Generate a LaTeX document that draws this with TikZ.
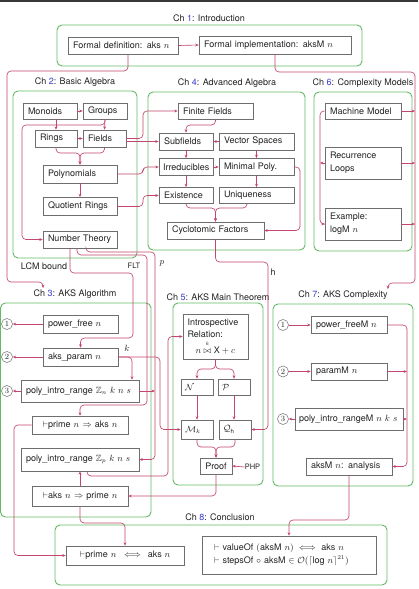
\documentclass[tikz,border=0pt]{standalone}
\usepackage{amsmath,amssymb}
\usepackage{fontspec}
\setsansfont{TeX Gyre Heros}
\renewcommand{\familydefault}{\sfdefault}
\usetikzlibrary{arrows.meta}
\definecolor{conncol}{RGB}{196,70,110}
\definecolor{frgreen}{RGB}{100,185,100}
\definecolor{boxgray}{RGB}{110,110,110}
\definecolor{chblue}{RGB}{60,60,210}
\definecolor{txt}{RGB}{35,35,35}
\newcommand{\fsz}{\fontsize{9}{13}\selectfont}
\newcommand{\chn}[1]{\textcolor{chblue}{#1}}
\begin{document}
\begin{tikzpicture}[x=1pt,y=-1pt,
  box/.style={draw=boxgray, line width=0.6pt, inner xsep=5pt, inner ysep=1pt, font=\fsz, text=txt, align=left},
  cbox/.style={box, align=center},
  frame/.style={draw=frgreen, line width=0.9pt, rounded corners=5pt},
  conn/.style={draw=conncol, line width=0.65pt, rounded corners=4pt, -{Stealth[length=3.4pt,width=2.8pt]}},
  chlab/.style={font=\fsz, text=txt, inner sep=0pt},
  elab/.style={font=\fsz, text=txt, inner sep=0pt},
  slab/.style={font=\fontsize{7.5}{9}\selectfont, text=txt, inner sep=0pt},
  circ/.style={circle, draw=boxgray, line width=0.5pt, inner sep=0pt, minimum size=11pt, font=\fontsize{8}{8}\rmfamily, text=txt}
]
\useasboundingbox (0,0) rectangle (418,589);
\fill[white] (0,0) rectangle (418,589);
\fill[gray!45!black] (0,0) rectangle (418,1.5);

% ---------- frames ----------
\draw[frame] (57,25) rectangle (362,66);
\draw[frame] (13,91) rectangle (137,258);
\draw[frame] (148,92) rectangle (305,250);
\draw[frame] (314,92) rectangle (412,251);
\draw[frame] (0.5,303) rectangle (151,517);
\draw[frame] (173,303) rectangle (263,485);
\draw[frame] (273,304) rectangle (413,486);
\draw[frame] (55,525) rectangle (387,585);

% ---------- chapter labels ----------
\node[chlab] (lab1) at (209,18) {Ch \chn{1}: Introduction};
\node[chlab] (lab2) at (75,82) {Ch \chn{2}: Basic Algebra};
\node[chlab] (lab4) at (227,83) {Ch \chn{4}: Advanced Algebra};
\node[chlab] (lab6) at (363,83) {Ch \chn{6}: Complexity Models};
\node[chlab] (lab3) at (75,294) {Ch \chn{3}: AKS Algorithm};
\node[chlab] (lab5) at (218,297) {Ch \chn{5}: AKS Main Theorem};
\node[chlab] (lab7) at (343,295) {Ch \chn{7}: AKS Complexity};
\node[chlab] (lab8) at (220,517) {Ch \chn{8}: Conclusion};

% ---------- Ch 1 ----------
\node[box, minimum width=110pt, text width=100pt, minimum height=17pt] (def) at (123,45.5) {Formal definition:\ \,aks $n$};
\node[box, minimum width=152pt, text width=142pt, minimum height=18pt] (impl) at (275,45) {Formal implementation:\ \,aksM $n$};

% ---------- Ch 2 ----------
\node[box, minimum width=54pt, text width=44pt, minimum height=16pt] (monoids) at (50,111) {Monoids};
\node[box, minimum width=44pt, text width=34pt, minimum height=16pt] (groups) at (105,111) {Groups};
\node[box, minimum width=42pt, text width=32pt, minimum height=17pt] (rings) at (56,138.5) {Rings};
\node[box, minimum width=43pt, text width=33pt, minimum height=17pt] (fields) at (104.5,138.5) {Fields};
\node[box, minimum width=74pt, text width=64pt, minimum height=18pt] (poly) at (80,174) {Polynomials};
\node[box, minimum width=74pt, text width=64pt, minimum height=18pt] (quot) at (80,206.5) {Quotient Rings};
\node[box, minimum width=74pt, text width=64pt, minimum height=17pt] (numth) at (80,239.5) {Number Theory};

% ---------- Ch 4 ----------
\node[box, minimum width=75pt, text width=65pt, minimum height=16pt] (ffields) at (215.5,111) {Finite Fields};
\node[box, minimum width=54pt, text width=44pt, minimum height=17pt] (subf) at (186,141.5) {Subfields};
\node[box, minimum width=75pt, text width=65pt, minimum height=17pt] (vsp) at (256.5,141.5) {Vector Spaces};
\node[box, minimum width=54pt, text width=46pt, inner xsep=4pt, minimum height=17pt] (irred) at (186,167) {Irreducibles};
\node[box, minimum width=75pt, text width=65pt, minimum height=17pt] (minp) at (256.5,167) {Minimal Poly.};
\node[box, minimum width=54pt, text width=44pt, minimum height=16pt] (exist) at (186,195.5) {Existence};
\node[box, minimum width=75pt, text width=65pt, minimum height=16pt] (uniq) at (256.5,195.5) {Uniqueness};
\node[box, minimum width=97pt, text width=87pt, minimum height=17pt] (cyclo) at (215.5,230.5) {Cyclotomic Factors};

% ---------- Ch 6 ----------
\node[box, minimum width=76pt, text width=66pt, minimum height=16pt] (mach) at (363,111) {Machine Model};
\node[box, minimum width=76pt, text width=66pt, minimum height=32pt] (recur) at (363,163) {Recurrence\\Loops};
\node[box, minimum width=76pt, text width=66pt, minimum height=32pt] (examp) at (363,224) {Example:\\logM $n$};

% ---------- Ch 3 ----------
\node[box, minimum width=75pt, text width=65pt, minimum height=18pt] (pfree) at (80.5,324) {power\_free $n$};
\node[box, minimum width=75pt, text width=65pt, minimum height=18pt] (aparam) at (80.5,357) {aks\_param $n$};
\node[box, minimum width=118pt, text width=108pt, minimum height=22pt] (pzn) at (80,391) {poly\_intro\_range $\mathbb{Z}_n\ k\ n\ s$};
\node[cbox, minimum width=96pt, text width=86pt, minimum height=18pt] (primeaks) at (80,425) {$\vdash$prime $n\Rightarrow$ aks $n$};
\node[box, minimum width=118pt, text width=108pt, minimum height=23pt] (pzp) at (80,459.5) {poly\_intro\_range $\mathbb{Z}_p\ k\ n\ s$};
\node[cbox, minimum width=96pt, text width=86pt, minimum height=20pt] (aksprime) at (80,496) {$\vdash$aks $n\Rightarrow$ prime $n$};
\node[circ] (a1) at (7,324) {1};
\node[circ] (a2) at (7,357) {2};
\node[circ] (a3) at (7,391) {3};

% ---------- Ch 5 ----------
\node[box, minimum width=65pt, text width=56pt, inner xsep=4.5pt, minimum height=45pt, font=\fontsize{9}{12.5}\selectfont] (intro) at (215.5,336.5) {Introspective\\Relation:\\[3pt]\hspace*{8pt}$n \mathrel{\overset{\raisebox{1.5pt}{$\scriptscriptstyle k$}}{\bowtie}} \mathsf{X} + c$};
\node[box, minimum width=32pt, text width=24pt, inner xsep=4pt, minimum height=16pt] (nN) at (197,387) {$\mathcal{N}$};
\node[box, minimum width=32pt, text width=24pt, inner xsep=4pt, minimum height=16pt] (nP) at (234,387) {$\mathcal{P}$};
\node[box, minimum width=32pt, text width=24pt, inner xsep=4pt, minimum height=19pt] (nM) at (197,429.5) {$\mathcal{M}_k$};
\node[box, minimum width=32pt, text width=24pt, inner xsep=4pt, minimum height=19pt] (nQ) at (235,429.5) {$\mathcal{Q}_{\mathsf{h}}$};
\node[cbox, minimum width=32pt, text width=26pt, inner xsep=3pt, minimum height=16pt] (proof) at (216,466) {Proof};
\node[slab] (php) at (252.5,467) {PHP};

% ---------- Ch 7 ----------
\node[box, minimum width=76pt, text width=66pt, minimum height=17pt] (pfreeM) at (349,325) {power\_freeM $n$};
\node[box, minimum width=76pt, text width=66pt, minimum height=17pt] (paramM) at (349,371.5) {paramM $n$};
\node[box, minimum width=108pt, text width=100pt, inner xsep=4pt, minimum height=22pt] (polyM) at (349,419) {poly\_intro\_rangeM $n\ k\ s$};
\node[box, minimum width=86pt, text width=76pt, minimum height=17pt] (aksMan) at (349,466.5) {aksM $n$:\ \,analysis};
\node[circ] (b1) at (283,325) {1};
\node[circ] (b2) at (283,371.5) {2};
\node[circ] (b3) at (283,419) {3};

% ---------- Ch 8 ----------
\node[cbox, minimum width=118pt, text width=108pt, minimum height=19pt] (iff) at (125,555.5) {$\vdash$prime $n\iff$ aks $n$};
\node[box, minimum width=174pt, text width=150pt, inner xsep=12pt, minimum height=38pt] (concl) at (289,555) {$\vdash$ valueOf $(\text{aksM } n)\iff$ aks $n$\\$\vdash$ stepsOf $\circ$ aksM $\in \mathcal{O}(\lceil\text{log } n\rceil^{21})$};

% ---------- edge labels ----------
\node[elab] (lcm) at (44,266) {LCM bound};
\node[slab] (flt) at (134,265.5) {FLT};
\node[elab] (plab) at (162,263) {$p$};
\node[elab] (klab) at (127,348) {$k$};
\node[elab] (hlab) at (273,272) {h};

% ---------- free ends ----------
\coordinate (ch3in) at (43,288);
\coordinate (ch7in) at (388,289);
\coordinate (pjoin) at (155,391);
\coordinate (r6a) at (415,111);
\coordinate (r6b) at (415,163);
\coordinate (r6c) at (415,224);
\coordinate (l6) at (320,163);
\coordinate (r7b) at (407,371.5);
\coordinate (r7c) at (407,419);

% ---------- Ch 1 connectors ----------
\draw[conn] (def.east) -- (impl.west);
\draw[conn] ([xshift=5pt]def.south) -- (128,71) -- (7,71) -- (7,282) -- (43,282) -- (ch3in);
\draw[conn] (impl.south) -- (275,72) -- (415,72) -- (415,283) -- (388,283) -- (ch7in);

% ---------- Ch 2 connectors ----------
\draw[conn] (monoids.east) -- (groups.west);
\draw[conn] (rings.north |- monoids.south) -- (rings.north);
\draw[conn] (groups.south) -- (fields.north);
\draw[conn] (rings.east) -- (fields.west);
\draw[conn] (rings.south) -- (56,153) -- (80,153) -- (poly.north);
\draw[conn] (fields.south) -- (104.5,153) -- (80,153) -- (poly.north);
\draw[conn] (poly.south) -- (quot.north);
\draw[conn] (groups.south) -- (105,125) -- (22,125) -- (22,239.5) -- (numth.west);

% ---------- Ch 2 -> Ch 4 ----------
\draw[conn] (fields.east) -- (143,138.5) -- (143,111) -- (ffields.west);
\draw[conn] ([yshift=-3pt]fields.east) -- (subf.west);
\draw[conn] (poly.east) -- (143,174) -- (143,167) -- (irred.west);
\draw[conn] (quot.east) -- (143,206.5) -- (143,195.5) -- (exist.west);

% ---------- Ch 4 connectors ----------
\draw[conn] (ffields.south) -- (215.5,125) -- (186,125) -- (subf.north);
\draw[conn] (vsp.west) -- (subf.east);
\draw[conn] (subf.south) -- (irred.north);
\draw[conn] (irred.east) -- (minp.west);
\draw[conn] (vsp.south) -- (minp.north);
\draw[conn] (irred.south) -- (exist.north);
\draw[conn] (minp.south) -- (uniq.north);
\draw[conn] (exist.south) -- (186,208) -- (215.5,208) -- (cyclo.north);
\draw[conn] ([xshift=-9.5pt]uniq.south) -- (247,208) -- (215.5,208) -- (cyclo.north);
\draw[conn] (minp.east) -- (300,167) -- (300,230.5) -- (cyclo.east);

% ---------- Ch 6 connectors ----------
\draw[conn] (mach.west) -- (320,111) -- (320,224) -- (examp.west);
\draw[conn] (recur.west) -- (l6);
\draw[conn] (mach.east) -- (r6a);
\draw[conn] (recur.east) -- (r6b);
\draw[conn] (examp.east) -- (r6c);

% ---------- Ch 3 connectors ----------
\draw[conn] (pfree.west) -- (a1.east);
\draw[conn] (aparam.west) -- (a2.east);
\draw[conn] (pzn.west) -- (a3.east);
\draw[conn] ([xshift=-10pt]numth.south) -- (70,273) -- (133,273) -- (133,338) -- (80.5,338) -- (aparam.north);
\draw[conn] ([xshift=-3pt]numth.south) -- (77,255) -- (147,255) -- (147,405) -- (80,405) -- (primeaks.north);
\draw[conn] ([xshift=6pt]numth.south) -- (86,252) -- (155,252) -- (155,459.5) -- (pzp.east);
\draw[conn] (aparam.east) -- (132,357) -- ([xshift=52pt]pzn.north);
\draw[conn] (aparam.east) -- (160,357) -- (160,429.5) -- (nM.west);
\draw[conn] (pzn.east) -- (pjoin);
\draw[conn] (aksprime.north) -- (pzp.south);
\draw[conn] ([xshift=7pt]pzp.south) -- (87,476) -- (168,476) -- (168,336.5) -- (intro.west);
\draw[conn] (primeaks.west) -- (14,425) -- (14,555.5) -- (iff.west);
\draw[conn] (aksprime.south) -- (80,523) -- (125,523) -- (iff.north);

% ---------- Ch 5 connectors ----------
\draw[conn] (intro.south) -- (215.5,369) -- (197,369) -- (nN.north);
\draw[conn] (intro.south) -- (215.5,369) -- (234,369) -- (nP.north);
\draw[conn] (nN.south) -- (nM.north);
\draw[conn] (nP.south) -- (nP.south |- nQ.north);
\draw[conn] (nM.south) -- (197,447) -- (216,447) -- (proof.north);
\draw[conn] (nQ.south) -- (235,447) -- (216,447) -- (proof.north);
\draw[conn] (php.west) -- (proof.east);
\draw[conn] (proof.south) -- (216,496) -- (aksprime.east);
\draw[conn] (cyclo.south) -- (215.5,262) -- (268,262) -- (268,429.5) -- (nQ.east);

% ---------- Ch 7 connectors ----------
\draw[conn] (b1.east) -- (pfreeM.west);
\draw[conn] (b2.east) -- (paramM.west);
\draw[conn] (polyM.west) -- (b3.east);
\draw[conn] (pfreeM.east) -- (407,325) -- (407,466.5) -- (aksMan.east);
\draw[conn] (paramM.east) -- (r7b);
\draw[conn] (polyM.east) -- (r7c);
\draw[conn] (aksMan.south) -- (349,520) -- (289,520) -- (concl.north);
\end{tikzpicture}
\end{document}
